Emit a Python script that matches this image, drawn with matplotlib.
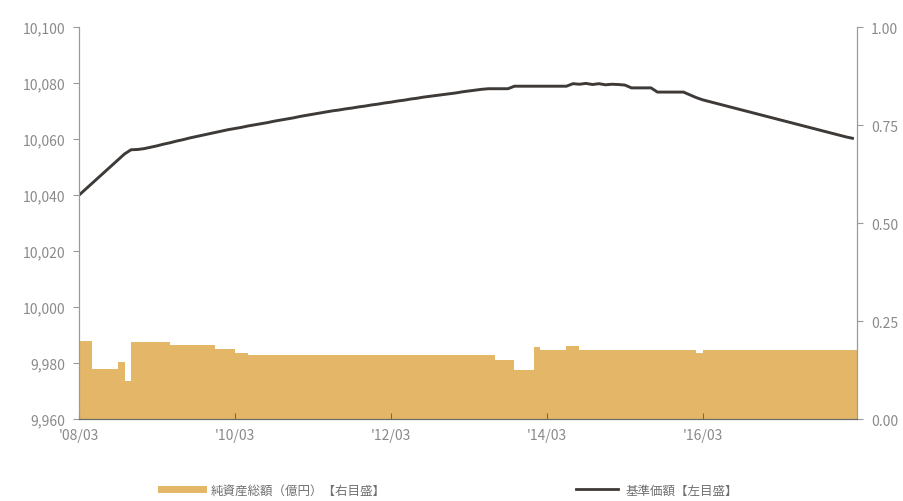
import numpy as np
import matplotlib.pyplot as plt
from matplotlib.lines import Line2D

plt.rcParams['font.family'] = ['Noto Sans CJK JP', 'DejaVu Sans']

# 月次データ 2008/03 ～ 2018/02
nav = [
    10040.0, 10042.1, 10044.2, 10046.3, 10048.4, 10050.5, 10052.6, 10054.7, 10056.2, 10056.3,
    10056.6, 10057.1, 10057.6, 10058.2, 10058.7, 10059.3, 10059.8, 10060.4, 10060.9, 10061.4,
    10061.9, 10062.4, 10062.9, 10063.4, 10063.8, 10064.2, 10064.7, 10065.1, 10065.5, 10065.9,
    10066.4, 10066.8, 10067.2, 10067.6, 10068.1, 10068.5, 10068.9, 10069.3, 10069.7, 10070.1,
    10070.4, 10070.8, 10071.1, 10071.5, 10071.8, 10072.2, 10072.5, 10072.9, 10073.2, 10073.6,
    10073.9, 10074.3, 10074.6, 10075.0, 10075.3, 10075.6, 10075.9, 10076.2, 10076.5, 10076.9,
    10077.2, 10077.5, 10077.8, 10078.0, 10078.0, 10078.0, 10078.0, 10078.9, 10078.9, 10078.9,
    10078.9, 10078.9, 10078.9, 10078.9, 10078.9, 10078.9, 10079.8, 10079.6, 10079.9, 10079.5,
    10079.8, 10079.4, 10079.6, 10079.5, 10079.3, 10078.3, 10078.3, 10078.3, 10078.3, 10076.8,
    10076.8, 10076.8, 10076.8, 10076.8, 10075.8, 10074.8, 10074.0, 10073.4, 10072.8, 10072.2,
    10071.6, 10071.0, 10070.4, 10069.8, 10069.2, 10068.6, 10068.0, 10067.4, 10066.8, 10066.2,
    10065.6, 10065.0, 10064.4, 10063.8, 10063.2, 10062.6, 10062.0, 10061.4, 10060.8, 10060.3,
]

assets = [
    0.200, 0.200, 0.129, 0.129, 0.129, 0.129, 0.147, 0.098, 0.197, 0.197,
    0.197, 0.197, 0.197, 0.197, 0.190, 0.190, 0.190, 0.190, 0.190, 0.190,
    0.190, 0.179, 0.179, 0.179, 0.168, 0.168, 0.163, 0.163, 0.163, 0.163,
    0.163, 0.163, 0.163, 0.163, 0.163, 0.163, 0.163, 0.163, 0.163, 0.163,
    0.163, 0.163, 0.163, 0.163, 0.163, 0.163, 0.163, 0.163, 0.163, 0.163,
    0.163, 0.163, 0.163, 0.163, 0.163, 0.163, 0.163, 0.163, 0.163, 0.163,
    0.163, 0.163, 0.163, 0.163, 0.152, 0.152, 0.152, 0.125, 0.125, 0.125,
    0.185, 0.177, 0.177, 0.177, 0.177, 0.187, 0.187, 0.177, 0.177, 0.177,
    0.177, 0.177, 0.177, 0.177, 0.177, 0.177, 0.177, 0.177, 0.177, 0.177,
    0.177, 0.177, 0.177, 0.177, 0.177, 0.170, 0.177, 0.177, 0.177, 0.177,
    0.177, 0.177, 0.177, 0.177, 0.177, 0.177, 0.177, 0.177, 0.177, 0.177,
    0.177, 0.177, 0.177, 0.177, 0.177, 0.177, 0.177, 0.177, 0.177, 0.177,
]

tick_months = [0, 24, 48, 72, 96]
tick_labels = ["'08/03", "'10/03", "'12/03", "'14/03", "'16/03"]

left_ticks = [9960, 9980, 10000, 10020, 10040, 10060, 10080, 10100]
right_ticks = [0.0, 0.25, 0.5, 0.75, 1.0]

AREA_COLOR = '#e4b768'
LINE_COLOR = '#3d3a38'
TEXT_COLOR = '#8a8a8a'

months = np.arange(len(nav))
edges = np.arange(len(assets) + 1)

fig = plt.figure(figsize=(9.04, 5.02), dpi=100)
ax = fig.add_axes([0.0874, 0.163, 0.8606, 0.781])
ax2 = ax.twinx()

# 純資産総額（右軸）は背面に
ax.set_zorder(ax2.get_zorder() + 1)
ax.patch.set_visible(False)

ax2.stairs(assets, edges, fill=True, color=AREA_COLOR, baseline=0, linewidth=0)
ax.plot(months, nav, color=LINE_COLOR, linewidth=2.1, solid_joinstyle='miter')

ax.set_xlim(0, 119.7)
ax.set_ylim(9960, 10100)
ax2.set_ylim(0, 1.0)

ax.set_xticks(tick_months)
ax.set_xticklabels(tick_labels)
ax.set_yticks(left_ticks)
ax.set_yticklabels([f'{v:,}' for v in left_ticks])
ax2.set_yticks(right_ticks)
ax2.set_yticklabels([f'{v:.2f}' for v in right_ticks])

for a in (ax, ax2):
    a.spines['top'].set_visible(False)
    a.spines['left'].set_color('#9a9a9a')
    a.spines['right'].set_color('#9a9a9a')
    a.spines['bottom'].set_color('#6a6a6a')
    a.tick_params(colors='#9a9a9a', labelcolor=TEXT_COLOR, labelsize=10)

ax.tick_params(axis='y', direction='out', length=4, pad=6)
ax.tick_params(axis='x', direction='in', length=4, pad=6, colors='#6a6a6a', labelcolor=TEXT_COLOR)
ax2.tick_params(axis='y', direction='out', length=4, pad=6)

handles = [
    Line2D([], [], color=AREA_COLOR, linewidth=5),
    Line2D([], [], color=LINE_COLOR, linewidth=2),
]
labels = ['純資産総額（億円）【右目盛】', '基準価額【左目盛】']
leg = fig.legend(handles, labels, loc='center', bbox_to_anchor=(0.497, 0.022), ncol=2,
                 frameon=False, fontsize=9, handlelength=3.4, columnspacing=15.2,
                 handletextpad=0.6)
for t in leg.get_texts():
    t.set_color('#707070')

fig.savefig('out.png', dpi=100)
